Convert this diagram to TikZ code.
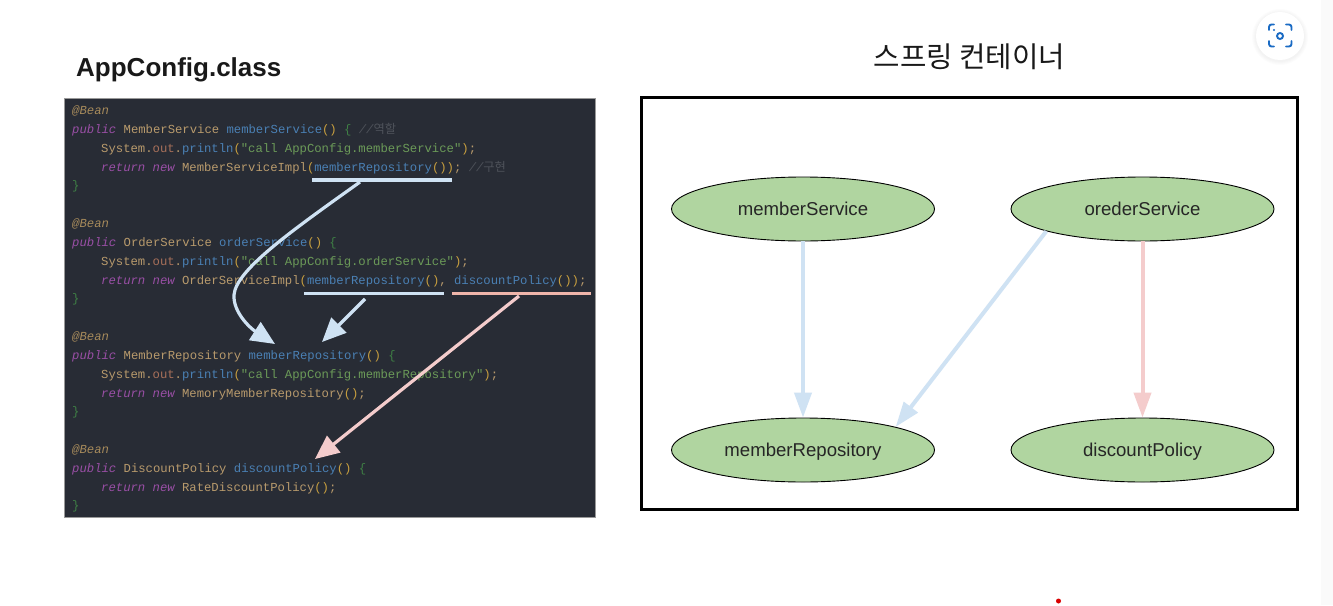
\documentclass[tikz,border=0pt]{standalone}
\usepackage{fontspec}
\setmainfont{Liberation Sans}
\newfontfamily\codefont{Liberation Mono}
\newfontfamily\krfont{Noto Sans CJK KR}
\usetikzlibrary{arrows.meta,shapes.geometric}
\definecolor{panelbg}{HTML}{282C35}
\definecolor{bluearrow}{HTML}{CFE2F3}
\definecolor{pinkarrow}{HTML}{F4CCCC}
\definecolor{pinkunder}{HTML}{EFB5AA}
\definecolor{nodegreen}{HTML}{B0D5A0}
\definecolor{iconblue}{HTML}{1A6BC4}
\newcommand{\cAnn}[1]{\textcolor[HTML]{A68A5B}{\itshape #1}}
\newcommand{\cKw}[1]{\textcolor[HTML]{9A4FA6}{\itshape #1}}
\newcommand{\cCls}[1]{\textcolor[HTML]{B89A6C}{#1}}
\newcommand{\cFn}[1]{\textcolor[HTML]{4A80B4}{#1}}
\newcommand{\cStr}[1]{\textcolor[HTML]{6B9A58}{#1}}
\newcommand{\cPar}[1]{\textcolor[HTML]{C9A03F}{#1}}
\newcommand{\cBr}[1]{\textcolor[HTML]{3F8045}{#1}}
\newcommand{\cOut}[1]{\textcolor[HTML]{A8705A}{#1}}
\newcommand{\cCom}[1]{\textcolor[HTML]{4E525A}{\itshape #1}}
\newcommand{\cSys}{\cCls{System}\cCls{.}\cOut{out}\cCls{.}\cFn{println}\cPar{(}}
\tikzset{%
	codeline/.style={anchor=mid west, inner sep=0pt, yshift=-1.5pt, font=\codefont\fontsize{12.25}{14}\selectfont},
	beannode/.style={ellipse, draw=black, line width=0.9pt, fill=nodegreen, text=black!85, text height=15pt, text depth=3pt, minimum width=263pt, minimum height=64pt, inner sep=0pt, font=\fontsize{18.6}{22}\selectfont},
	tomember/.style={draw=bluearrow, line width=4pt, -{Triangle[length=25pt,width=17pt]}},
	topolicy/.style={draw=pinkarrow, line width=4pt, -{Triangle[length=25pt,width=17pt]}},
	codeblue/.style={draw=bluearrow, line width=3.2pt, -{Triangle[length=24pt,width=21pt]}},
	codepink/.style={draw=pinkarrow, line width=3.2pt, -{Triangle[length=24pt,width=21pt]}},
	blueline/.style={draw=bluearrow, line width=3.4pt},
	pinkline/.style={draw=pinkunder, line width=3.4pt}}
\begin{document}
\begin{tikzpicture}[x=1pt,y=-1pt]
	\useasboundingbox (0,0) rectangle (1333,605);
	\fill[white] (0,0) rectangle (1333,605);
	\fill[black!2] (1321,0) rectangle (1333,605);

	\node[anchor=mid west, inner sep=0pt, font=\bfseries\fontsize{26}{30}\selectfont, text=black!90] (classtitle) at (76,74) {AppConfig.class};
	\node[inner sep=0pt, font=\krfont\fontsize{28.7}{34}\selectfont, text=black!90] (containertitle) at (969.5,56.5) {스프링 컨테이너};

	\fill[panelbg, draw=black!40, line width=1pt] (64,98) rectangle (595,517);

	\node[codeline] (bean1) at (72,110) {\cAnn{@Bean}};
	\node[codeline] (sig1) at (72,129) {\cKw{public} \cCls{MemberService} \cFn{memberService}\cPar{()} \cBr{\{} \cCom{//{\krfont 역할}}};
	\node[codeline] (print1) at (101,148) {\cSys\cStr{"call AppConfig.memberService"}\cPar{)}\cCls{;}};
	\node[codeline] (ret1) at (101,167) {\cKw{return} \cKw{new} \cCls{MemberServiceImpl}\cPar{(}\cFn{memberRepository}\cPar{())}\cCls{;} \cCom{//{\krfont 구현}}};
	\node[codeline] (end1) at (72,185) {\cBr{\}}};

	\node[codeline] (bean2) at (72,223) {\cAnn{@Bean}};
	\node[codeline] (sig2) at (72,242) {\cKw{public} \cCls{OrderService} \cFn{orderService}\cPar{()} \cBr{\{}};
	\node[codeline] (print2) at (101,261) {\cSys\cStr{"call AppConfig.orderService"}\cPar{)}\cCls{;}};
	\node[codeline] (ret2) at (101,280) {\cKw{return} \cKw{new} \cCls{OrderServiceImpl}\cPar{(}\cFn{memberRepository}\cPar{()}\cCls{,} \cFn{discountPolicy}\cPar{())}\cCls{;}};
	\node[codeline] (end2) at (72,298) {\cBr{\}}};

	\node[codeline] (bean3) at (72,336) {\cAnn{@Bean}};
	\node[codeline] (sig3) at (72,355) {\cKw{public} \cCls{MemberRepository} \cFn{memberRepository}\cPar{()} \cBr{\{}};
	\node[codeline] (print3) at (101,374) {\cSys\cStr{"call AppConfig.memberRepository"}\cPar{)}\cCls{;}};
	\node[codeline] (ret3) at (101,393) {\cKw{return} \cKw{new} \cCls{MemoryMemberRepository}\cPar{()}\cCls{;}};
	\node[codeline] (end3) at (72,411) {\cBr{\}}};

	\node[codeline] (bean4) at (72,449) {\cAnn{@Bean}};
	\node[codeline] (sig4) at (72,468) {\cKw{public} \cCls{DiscountPolicy} \cFn{discountPolicy}\cPar{()} \cBr{\{}};
	\node[codeline] (ret4) at (101,487) {\cKw{return} \cKw{new} \cCls{RateDiscountPolicy}\cPar{()}\cCls{;}};
	\node[codeline] (end4) at (72,505) {\cBr{\}}};

	% underlines in the code
	\coordinate (ulA) at (312,180);
	\coordinate (ulB) at (452,180);
	\coordinate (ulC) at (304,293.5);
	\coordinate (ulD) at (444,293.5);
	\coordinate (ulE) at (452,293.5);
	\coordinate (ulF) at (591,293.5);
	\coordinate (fromA) at (360,182);
	\coordinate (fromC) at (365,299);
	\coordinate (fromE) at (519,296);
	\coordinate (toRepoA) at (275,344);
	\coordinate (toRepoC) at (322,342);
	\coordinate (toPolicy) at (315,459);
	\path[blueline] (ulA) -- (ulB);
	\path[blueline] (ulC) -- (ulD);
	\path[pinkline] (ulE) -- (ulF);
	\path[codeblue] (fromA) .. controls (290,232) and (236,270) .. (234,295) .. controls (233,312) and (250,328) .. (toRepoA);
	\path[codeblue] (fromC) -- (toRepoC);
	\path[codepink] (fromE) -- (toPolicy);

	\draw[black, line width=3pt] (641.5,97.5) rectangle (1297.5,509);

	\node[beannode] (memberService) at (803,209) {memberService};
	\node[beannode] (orederService) at (1142.5,209) {orederService};
	\node[beannode] (memberRepository) at (803,450) {memberRepository};
	\node[beannode] (discountPolicy) at (1142.5,450) {discountPolicy};

	\path[tomember] (memberService) -- (memberRepository);
	\path[tomember] (orederService.193.5) -- (memberRepository.14);
	\path[topolicy] (orederService) -- (discountPolicy);

	% lens button in the corner
	\foreach \r in {28,27,26,25}
		\fill[black, opacity=0.012] (1280,37) circle (\r);
	\fill[white] (1280,36) circle (24);
	\draw[iconblue, line width=1.9pt, line cap=round] (1269,30) -- (1269,27) arc[start angle=180, end angle=90, radius=2.5pt] -- (1274,24.5);
	\draw[iconblue, line width=1.9pt, line cap=round] (1286,24.5) -- (1289,24.5) arc[start angle=90, end angle=0, radius=2.5pt] -- (1291.5,30);
	\draw[iconblue, line width=1.9pt, line cap=round] (1269,41) -- (1269,44) arc[start angle=180, end angle=270, radius=2.5pt] -- (1274,46.5);
	\draw[iconblue, line width=1.9pt, line cap=round] (1286,46.5) -- (1289,46.5) arc[start angle=270, end angle=360, radius=2.5pt] -- (1291.5,41);
	\draw[iconblue, line width=1.9pt] (1280,36) circle (3);
	\fill[iconblue] (1274,30) circle (1.2);

	\fill[red!85!black] (1058.5,601) circle (2.5);
\end{tikzpicture}
\end{document}
